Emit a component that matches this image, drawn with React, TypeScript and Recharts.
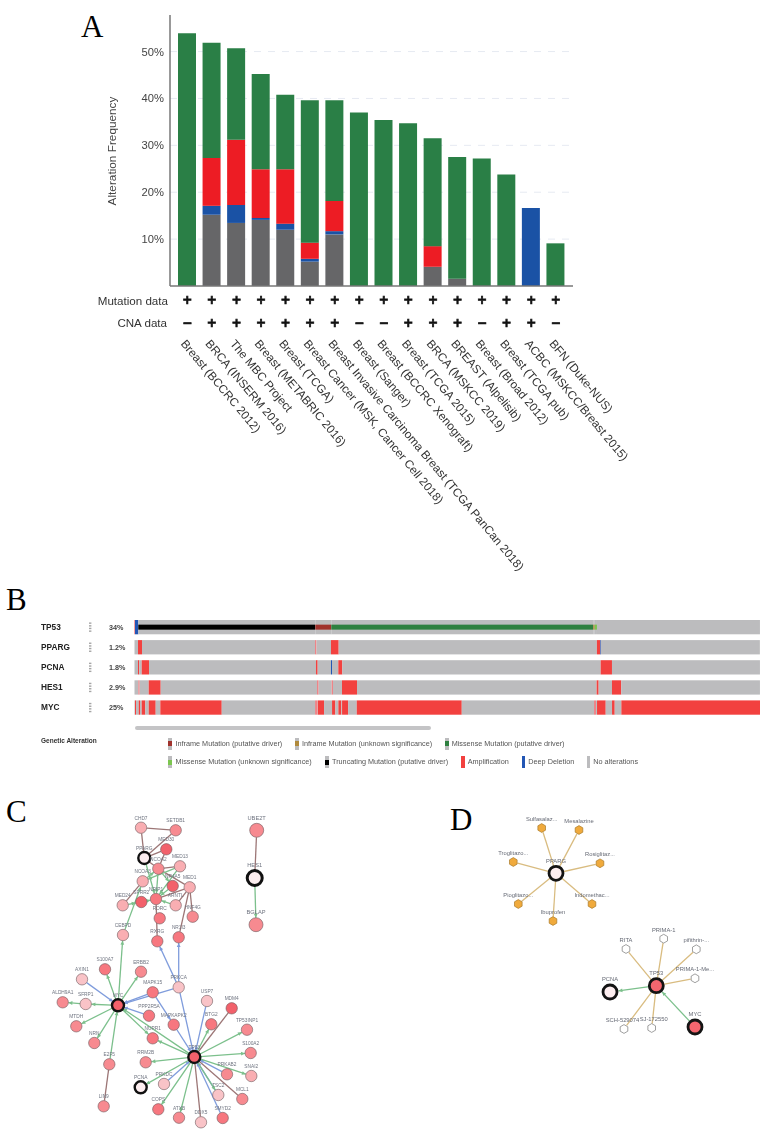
import React from "react";
import {
  Bar,
  BarChart,
  CartesianGrid,
  ReferenceLine,
  Scatter,
  ScatterChart,
  XAxis,
  YAxis,
} from "recharts";

const SANS = "'Liberation Sans', Arial, sans-serif";
const SOFT = "blur(0.4px)"; // the reference is a soft scan

// Panel A
const studies = [
  "Breast (BCCRC 2012)",
  "BRCA (INSERM 2016)",
  "The MBC Project",
  "Breast (METABRIC 2016)",
  "Breast (TCGA)",
  "Breast Cancer (MSK, Cancer Cell 2018)",
  "Breast Invasive Carcinoma Breast (TCGA PanCan 2018)",
  "Breast (Sanger)",
  "Breast (BCCRC Xenograft)",
  "Breast (TCGA 2015)",
  "BRCA (MSKCC 2019)",
  "BREAST (Alpelisib)",
  "Breast (Broad 2012)",
  "Breast (TCGA pub)",
  "ACBC (MSKCC/Breast 2015)",
  "BFN (Duke-NUS)",
];
const multiple = [0, 15.2, 13.45, 14.1, 12.0, 5.2, 11.0, 0, 0, 0, 4.1, 1.55, 0, 0, 0, 0];
const deepDeletion = [0, 1.9, 3.85, 0.4, 1.3, 0.6, 0.7, 0, 0, 0, 0, 0, 0, 0, 16.65, 0];
const amplification = [0, 10.2, 13.9, 10.4, 11.6, 3.45, 6.45, 0, 0, 0, 4.4, 0, 0, 0, 0, 0];
const mutation = [53.9, 24.6, 19.5, 20.3, 15.9, 30.35, 21.45, 37.0, 35.4, 34.7, 23.0, 25.95, 27.2, 23.8, 0, 9.1];
const mutationData = ["+", "+", "+", "+", "+", "+", "+", "+", "+", "+", "+", "+", "+", "+", "+", "+"];
const cnaData = ["-", "+", "+", "+", "+", "+", "+", "-", "-", "+", "+", "+", "-", "+", "+", "-"];
const freqTicks = [10, 20, 30, 40, 50];

const studyRows = studies.map((study, i) => ({
  study,
  multiple: multiple[i],
  deepDeletion: deepDeletion[i],
  amplification: amplification[i],
  mutation: mutation[i],
}));

// Panel B
const genes = ["TP53", "PPARG", "PCNA", "HES1", "MYC"];
const genePercents = ["34%", "1.2%", "1.8%", "2.9%", "25%"];

type Seg = [string, number];
const tp53Segments: Seg[] = [
  ["amp", 0.08], ["deep", 0.53], ["trunc", 28.3], ["inframe", 2.56], ["missense", 41.89],
  ["inframeU", 0.24], ["missenseU", 0.35], ["none", 26.06],
];
const ppargSegments: Seg[] = [
  ["none", 0.56], ["amp", 0.64], ["none", 27.66], ["faint", 0.24], ["none", 2.32], ["amp", 1.23],
  ["none", 41.29], ["amp", 0.53], ["deep", 0.11], ["none", 25.42],
];
const pcnaSegments: Seg[] = [
  ["none", 0.56], ["amp", 0.21], ["none", 0.38], ["amp", 1.17], ["none", 26.7], ["amp", 0.27],
  ["none", 2.13], ["deep", 0.16], ["none", 1.01], ["amp", 0.64], ["none", 41.31], ["amp", 1.81],
  ["none", 23.66],
];
const hes1Segments: Seg[] = [
  ["none", 0.61], ["faint", 0.22], ["none", 1.44], ["amp", 1.92], ["none", 24.99], ["faint", 0.27],
  ["none", 2.08], ["faint", 0.21], ["none", 1.44], ["amp", 2.4], ["none", 38.32], ["amp", 0.32],
  ["none", 2.13], ["amp", 1.49], ["none", 22.17],
];
const mycSegments: Seg[] = [
  ["none", 0.08], ["amp", 0.16], ["none", 0.43], ["amp", 0.21], ["none", 0.27], ["amp", 0.58],
  ["none", 0.54], ["amp", 1.12], ["none", 0.74], ["amp", 9.82], ["none", 14.92], ["faint", 0.37],
  ["none", 0.06], ["amp", 1.01], ["none", 1.28], ["amp", 0.53], ["none", 0.48], ["amp", 0.48],
  ["none", 0.11], ["amp", 0.96], ["none", 1.39], ["amp", 16.79], ["none", 21.15], ["faint", 0.32],
  ["none", 0.16], ["amp", 1.39], ["none", 1.01], ["amp", 0.43], ["none", 1.06], ["amp", 22.17],
];
const geneSegments = [tp53Segments, ppargSegments, pcnaSegments, hes1Segments, mycSegments];
const maxSegments = Math.max(...geneSegments.map((s) => s.length));
const segmentKeys = Array.from({ length: maxSegments }, (_, k) => `s${k}`);
const geneRows = genes.map((gene, i) => {
  const row: Record<string, any> = { gene, pct: genePercents[i] };
  geneSegments[i].forEach(([, v], k) => (row[`s${k}`] = v));
  return row;
});

const statusColors: Record<string, string> = {
  none: "#bcbcbe",
  amp: "#f2413f",
  faint: "#ee8488",
  deep: "#2356b4",
  trunc: "#000000",
  inframe: "#a0322c",
  inframeU: "#b08a3c",
  missense: "#2e8040",
  missenseU: "#7cc64f",
};
const innerStatuses = ["trunc", "inframe", "inframeU", "missense", "missenseU"];

const legendRow1 = [
  { x: 168, textX: 175.5, status: "inframe", label: "Inframe Mutation (putative driver)" },
  { x: 295, textX: 302, status: "inframeU", label: "Inframe Mutation (unknown significance)" },
  { x: 445, textX: 451.7, status: "missense", label: "Missense Mutation (putative driver)" },
];
const legendRow2 = [
  { x: 168, textX: 175.5, status: "missenseU", label: "Missense Mutation (unknown significance)" },
  { x: 325, textX: 332, status: "trunc", label: "Truncating Mutation (putative driver)" },
  { x: 461, textX: 467.7, status: "amp", label: "Amplification" },
  { x: 521.7, textX: 528.3, status: "deep", label: "Deep Deletion" },
  { x: 586.7, textX: 593.3, status: "none", label: "No alterations" },
];

// Panel C: layout, last value is the shade of the node
type NetNode = [string, number, number, number];
const shades = ["#fdeef0", "#f9c3c7", "#f9aeb2", "#f78a90", "#f7777f", "#f2616b"];
const networkNodes: NetNode[] = [
  ["CHD7", 141, 827.7, 2], ["SETDB1", 175.7, 830.3, 3], ["MED30", 166.3, 849.3, 5],
  ["PPARG", 144.3, 858, 0], ["NCOA2", 158.3, 868.7, 3], ["MED13", 180, 866.3, 2],
  ["NCOA3", 142.7, 881.3, 2], ["NR4A5", 172.7, 886, 5], ["MED1", 189.7, 887.3, 2],
  ["MED24", 122.7, 905.3, 2], ["SPRR2", 141.3, 902, 5], ["NRIP1", 156, 899, 4],
  ["ARNTL", 175.7, 905.3, 2], ["RORC", 159.7, 918.3, 4], ["HNF4G", 192.7, 916.7, 3],
  ["CEBPD", 123, 935, 2], ["RXRG", 157.3, 941.3, 4], ["NR1I3", 178.7, 937.3, 4],
  ["UBE2T", 256.7, 830.3, 3], ["HES1", 254.7, 878, 0], ["BGLAP", 256, 924.7, 3],
  ["S100A7", 105, 969.3, 4], ["ERBB2", 141, 971.7, 3], ["AXIN1", 82, 979.3, 1],
  ["PRKCA", 178.7, 987.3, 1], ["MAPK15", 152.7, 992.3, 4], ["ALDH9A1", 62.7, 1002.3, 3],
  ["SFRP1", 85.7, 1004, 1], ["MYC", 118, 1005.3, 5], ["USP7", 207, 1001, 1],
  ["MDM4", 231.7, 1008.3, 5], ["BTG2", 211.3, 1024.3, 4], ["PPP2R5A", 149, 1015.7, 4],
  ["MTDH", 76.3, 1026.3, 3], ["MAPKAPK2", 173.7, 1024.7, 4], ["TP53INP1", 247, 1029.7, 3],
  ["NRN", 94.3, 1043, 3], ["NUPR1", 152.7, 1038.3, 4], ["TP53", 194.3, 1057, 5],
  ["S100A2", 250.7, 1053, 3], ["RRM2B", 145.7, 1062.3, 3], ["E2F5", 109.3, 1064.3, 3],
  ["PRKDC", 164, 1084, 1], ["PRKAB2", 227, 1074.3, 3], ["SNAI2", 251.3, 1076, 2],
  ["PCNA", 140.7, 1087.3, 0], ["TSC2", 218.3, 1095, 1], ["MCL1", 242.3, 1099, 3],
  ["COPS", 158.3, 1109.3, 4], ["LIN9", 103.7, 1106.3, 3], ["ATXB", 179, 1117.7, 3],
  ["DDX5", 201, 1122.3, 1], ["SMYD2", 222.7, 1118, 4],
];
const networkHubs = ["PPARG", "HES1", "MYC", "TP53", "PCNA"];
const bigNodes = ["UBE2T", "BGLAP"];

const greenEdges = [
  ["MYC", "S100A7"], ["MYC", "ERBB2"], ["MYC", "SFRP1"], ["SFRP1", "ALDH9A1"], ["MYC", "MTDH"],
  ["MYC", "NRN"], ["E2F5", "MYC"], ["MYC", "NUPR1"], ["TP53", "MYC"], ["MYC", "CEBPD"],
  ["CEBPD", "NCOA3"], ["TP53", "BTG2"], ["TP53", "TP53INP1"], ["TP53", "S100A2"], ["TP53", "SNAI2"],
  ["TP53", "TSC2"], ["TP53", "ATXB"], ["TP53", "COPS"], ["TP53", "PCNA"], ["TP53", "RRM2B"],
  ["TP53", "NUPR1"], ["HES1", "BGLAP"], ["NCOA3", "NCOA2"], ["NCOA2", "NRIP1"], ["PPARG", "NRIP1"],
  ["NCOA2", "NR4A5"], ["MED13", "NCOA3"], ["ARNTL", "NRIP1"], ["SPRR2", "NRIP1"], ["MED24", "SPRR2"],
  ["NR4A5", "NRIP1"], ["MED13", "NRIP1"],
];
const blueEdges = [
  ["AXIN1", "MYC"], ["MAPK15", "MYC"], ["PPP2R5A", "MYC"], ["PRKCA", "MYC"], ["PRKCA", "RXRG"],
  ["PRKCA", "NR1I3"], ["PRKCA", "TP53"], ["MAPK15", "MAPKAPK2"], ["MAPKAPK2", "TP53"], ["USP7", "TP53"],
  ["PRKAB2", "TP53"], ["TSC2", "TP53"], ["SMYD2", "TP53"], ["PRKDC", "TP53"],
];
const brownEdges = [
  ["CHD7", "SETDB1"], ["CHD7", "PPARG"], ["SETDB1", "PPARG"], ["PPARG", "MED30"], ["PPARG", "NCOA2"],
  ["NCOA3", "MED24"], ["NCOA2", "MED1"], ["MED30", "NCOA2"], ["NCOA2", "MED13"], ["NRIP1", "RXRG"],
  ["MED1", "NR1I3"], ["MED1", "HNF4G"], ["MED1", "ARNTL"], ["NRIP1", "MED1"], ["E2F5", "LIN9"],
  ["MDM4", "TP53"], ["MCL1", "TP53"], ["DDX5", "TP53"], ["UBE2T", "HES1"],
];

// Panel D
type DrugNode = [string, number, number, string];
const drugNodes: DrugNode[] = [
  ["Sulfasalaz...", 541.7, 828, "drug"], ["Mesalazine", 579, 830, "drug"], ["Rosiglitaz...", 600, 863.3, "drug"],
  ["Indomethac...", 592, 904, "drug"], ["Ibuprofen", 553, 921, "drug"], ["Pioglitazo...", 518.3, 904, "drug"],
  ["Troglitazo...", 513.3, 862, "drug"], ["PPARG", 556, 873.3, "hubPale"],
  ["RITA", 626, 949, "compound"], ["PRIMA-1", 663.7, 938.7, "compound"], ["pifithrin-...", 696.3, 949.3, "compound"],
  ["PRIMA-1-Me...", 695, 978.3, "compound"], ["SJ-172550", 651.7, 1028, "compound"], ["SCH-529074", 624, 1029, "compound"],
  ["TP53", 656.3, 985.7, "hubRed"], ["PCNA", 610, 992, "hubPale"], ["MYC", 695, 1027, "hubRed"],
];
const drugEdges = [
  ["PPARG", "Sulfasalaz..."], ["PPARG", "Mesalazine"], ["PPARG", "Rosiglitaz..."], ["PPARG", "Indomethac..."],
  ["PPARG", "Ibuprofen"], ["PPARG", "Pioglitazo..."], ["PPARG", "Troglitazo..."],
  ["TP53", "RITA"], ["TP53", "PRIMA-1"], ["TP53", "pifithrin-..."], ["TP53", "PRIMA-1-Me..."],
  ["TP53", "SJ-172550"], ["TP53", "SCH-529074"],
];
const drugArrows = [["TP53", "PCNA"], ["MYC", "TP53"]];

const GREEN_EDGE = "#7cc08c";
const BLUE_EDGE = "#7f9cdc";
const BROWN_EDGE = "#9c7676";
const TAN_EDGE = "#d9bc80";

const StudyTick = ({ x, payload, index }: any) => {
  return (
    <g fontFamily={SANS}>
      <text x={x} y={304.3} textAnchor="middle" fontFamily="'DejaVu Sans'" fontSize={12} fontWeight="bold" fill="#111" stroke="#111" strokeWidth={0.7}>
        {mutationData[index] === "+" ? "+" : "\u2212"}
      </text>
      <text x={x} y={326.5} textAnchor="middle" fontFamily="'DejaVu Sans'" fontSize={12} fontWeight="bold" fill="#111" stroke="#111" strokeWidth={0.7}>
        {cnaData[index] === "+" ? "+" : "\u2212"}
      </text>
      <text
        x={x - 7}
        y={344}
        fontSize={11.8}
        fill="#333"
        transform={`rotate(50 ${x - 7} 344)`}
      >
        {payload.value}
      </text>
    </g>
  );
};

const GeneTick = ({ y, payload, index }: any) => {
  return (
    <g fontFamily={SANS}>
      <text x={41} y={y + 3} fontSize={8.3} fontWeight="bold" fill="#222">
        {payload.value}
      </text>
      {[-4, -1.3, 1.3, 4].map((d) => (
        <rect key={d} x={89} y={y + d - 0.6} width={2.4} height={1.4} fill="#a5a5a5" />
      ))}
      <text x={109} y={y + 2.5} fontSize={7.2} fontWeight="bold" fill="#444">
        {genePercents[index]}
      </text>
    </g>
  );
};

const makeSegment = (k: number) => (props: any) => {
  const { x, y, width, height, index } = props;
  const seg = geneSegments[index] ? geneSegments[index][k] : undefined;
  if (!seg || !width) return <g />;
  const color = statusColors[seg[0]];
  if (innerStatuses.includes(seg[0])) {
    return (
      <g>
        <rect x={x} y={y} width={width} height={height} fill={statusColors.none} />
        <rect x={x} y={y + height / 2 - 2.5} width={width} height={5} fill={color} />
      </g>
    );
  }
  return <rect x={x} y={y} width={width} height={height} fill={color} />;
};

const lookup = (name: string, list: any[]) => list.find((n) => n[0] === name);

// line from one node rim to the other, with an optional arrow head at the far end
const edgeShape = (color: string, r1: number, r2: number, arrow: boolean, w: number) => (props: any) => {
  const { x1, y1, x2, y2 } = props;
  const len = Math.hypot(x2 - x1, y2 - y1) || 1;
  const ux = (x2 - x1) / len;
  const uy = (y2 - y1) / len;
  const sx = x1 + ux * r1;
  const sy = y1 + uy * r1;
  const ex = x2 - ux * r2;
  const ey = y2 - uy * r2;
  const head = `${ex},${ey} ${ex - ux * 4 - uy * 1.9},${ey - uy * 4 + ux * 1.9} ${ex - ux * 4 + uy * 1.9},${ey - uy * 4 - ux * 1.9}`;
  return (
    <g>
      <line x1={sx} y1={sy} x2={ex} y2={ey} stroke={color} strokeWidth={w} />
      {arrow && <polygon points={head} fill={color} />}
    </g>
  );
};

const nodeRadius = (name: string) =>
  networkHubs.includes(name) ? (name === "HES1" ? 7.5 : 6) : bigNodes.includes(name) ? 7 : 5.7;

const NetworkEdges = (edges: string[][], color: string, arrow: boolean) =>
  edges.map(([a, b], i) => {
    const from = lookup(a, networkNodes);
    const to = lookup(b, networkNodes);
    return (
      <ReferenceLine
        key={`${color}-${i}`}
        segment={[
          { x: from[1], y: from[2] },
          { x: to[1], y: to[2] },
        ]}
        shape={edgeShape(color, nodeRadius(a), nodeRadius(b), arrow, 1.3)}
      />
    );
  });

const NetworkNode = (props: any) => {
  const { cx, cy, payload } = props;
  const hub = networkHubs.includes(payload.name);
  const big = payload.name === "HES1" || bigNodes.includes(payload.name);
  const r = nodeRadius(payload.name);
  return (
    <g fontFamily={SANS}>
      <circle
        cx={cx}
        cy={cy}
        r={r}
        fill={payload.fill}
        stroke={hub ? "#111" : "#6e5a5e"}
        strokeWidth={hub ? (payload.name === "HES1" ? 3 : 2.4) : 0.6}
      />
      <text
        x={cx}
        y={cy - r - (big ? 3.5 : 2.5)}
        textAnchor="middle"
        fontSize={big ? 5.7 : 4.8}
        fill="#6f7480"
      >
        {payload.name}
      </text>
    </g>
  );
};

const hexPoints = (cx: number, cy: number, r: number) =>
  [0, 1, 2, 3, 4, 5]
    .map((i) => {
      const a = Math.PI / 6 + (i * Math.PI) / 3;
      return `${cx + r * Math.cos(a)},${cy + r * Math.sin(a)}`;
    })
    .join(" ");

const drugRadius = (kind: string) => (kind === "hubPale" || kind === "hubRed" ? 7 : 4.4);

const DrugNodeShape = (props: any) => {
  const { cx, cy, payload } = props;
  const kind = payload.kind;
  const r = drugRadius(kind);
  // these two labels nearly touch in the reference
  const dx = payload.name === "SCH-529074" ? -1.5 : payload.name === "SJ-172550" ? 2 : 0;
  return (
    <g fontFamily={SANS}>
      {kind === "hubPale" || kind === "hubRed" ? (
        <circle
          cx={cx}
          cy={cy}
          r={r}
          fill={kind === "hubRed" ? "#f4666f" : "#fdeef0"}
          stroke="#141414"
          strokeWidth={2.8}
        />
      ) : (
        <polygon
          points={hexPoints(cx, cy, r)}
          fill={kind === "drug" ? "#f0aa3c" : "#ffffff"}
          stroke={kind === "drug" ? "#a97b2d" : "#777"}
          strokeWidth={0.7}
        />
      )}
      <text
        x={cx + dx}
        y={cy - r - (kind === "drug" || kind === "compound" ? 2.8 : 3.6)}
        textAnchor="middle"
        fontSize={5.8}
        fill="#666a75"
      >
        {payload.name}
      </text>
    </g>
  );
};

const Letter = ({ x, y, children }: any) => (
  <div
    style={{
      position: "absolute",
      left: x,
      top: y,
      fontFamily: "'Liberation Serif', serif",
      fontSize: 31,
      lineHeight: "31px",
      color: "#000",
    }}
  >
    {children}
  </div>
);

const LegendRow = ({ items, y }: any) => (
  <>
    {items.map((item: any) => (
      <React.Fragment key={item.label}>
        <div style={{ position: "absolute", left: item.x, top: y - 6, width: 3.6, height: 12, background: statusColors.none }} />
        <div
          style={{
            position: "absolute",
            left: item.x,
            top: item.status === "amp" || item.status === "deep" ? y - 6 : y - 2.5,
            width: 3.6,
            height: item.status === "amp" || item.status === "deep" ? 12 : 5,
            background: statusColors[item.status],
          }}
        />
        <div
          style={{
            position: "absolute",
            left: item.textX,
            top: y - 5,
            fontFamily: SANS,
            fontSize: 7.25,
            lineHeight: "10px",
            color: "#555",
            whiteSpace: "nowrap",
          }}
        >
          {item.label}
        </div>
      </React.Fragment>
    ))}
  </>
);

const networkData = networkNodes.map(([name, x, y, shade]) => ({ name, x, y, fill: shades[shade] }));
const drugData = drugNodes.map(([name, x, y, kind]) => ({ name, x, y, kind }));

export default function App() {
  const absLabel = (text: string, right: number, top: number) => (
    <div
      style={{
        position: "absolute",
        right: 770 - right,
        top,
        fontFamily: SANS,
        fontSize: 11.6,
        lineHeight: "14px",
        color: "#333",
        whiteSpace: "nowrap",
      }}
    >
      {text}
    </div>
  );

  return (
    <div style={{ position: "absolute", left: 0, top: 0, width: 770, height: 1129, background: "#fff", overflow: "hidden" }}>
      <Letter x={81} y={11}>A</Letter>
      <Letter x={6} y={584}>B</Letter>
      <Letter x={6} y={796}>C</Letter>
      <Letter x={450} y={804}>D</Letter>

      <div style={{ position: "absolute", left: 0, top: 0, width: 770, height: 600, filter: SOFT }}>
        <BarChart
          width={770}
          height={600}
          data={studyRows}
          margin={{ top: 15, right: 197, bottom: 0, left: 0 }}
          barSize={18}
        >
          <CartesianGrid vertical={false} stroke="#e6eaf2" strokeDasharray="7 7" horizontalValues={freqTicks} />
          <XAxis
            dataKey="study"
            interval={0}
            height={314}
            padding={{ left: 5, right: 5 }}
            tickLine={false}
            tick={<StudyTick />}
            stroke="#777"
            strokeWidth={1.5}
          />
          <YAxis
            width={170}
            domain={[0, 57.8]}
            ticks={freqTicks}
            tickFormatter={(v: number) => `${v}%`}
            tick={{ fontFamily: SANS, fontSize: 11.2, fill: "#444" }}
            tickLine={false}
            tickMargin={0}
            stroke="#777"
            strokeWidth={1.5}
          />
          <Bar dataKey="multiple" stackId="a" fill="#666668" isAnimationActive={false} />
          <Bar dataKey="deepDeletion" stackId="a" fill="#1a52a5" isAnimationActive={false} />
          <Bar dataKey="amplification" stackId="a" fill="#ed1c24" isAnimationActive={false} />
          <Bar dataKey="mutation" stackId="a" fill="#2a7f46" isAnimationActive={false} />
        </BarChart>
        {absLabel("Mutation data", 168, 293.5)}
        {absLabel("CNA data", 167, 316)}
        <div
          style={{
            position: "absolute",
            left: 112,
            top: 151,
            transform: "translate(-50%, -50%) rotate(-90deg)",
            fontFamily: SANS,
            fontSize: 11.8,
            color: "#444",
            whiteSpace: "nowrap",
          }}
        >
          Alteration Frequency
        </div>
      </div>

      <div style={{ position: "absolute", left: 0, top: 617.25, filter: SOFT }}>
        <BarChart
          layout="vertical"
          width={760}
          height={100.5}
          data={geneRows}
          margin={{ top: 0, right: 0, bottom: 0, left: 0 }}
          barSize={14.3}
        >
          <XAxis type="number" hide domain={[0, 100]} />
          <YAxis
            type="category"
            dataKey="gene"
            width={134.5}
            interval={0}
            tickLine={false}
            axisLine={false}
            tick={<GeneTick />}
          />
          {segmentKeys.map((key, k) => (
            <Bar key={key} dataKey={key} stackId="g" isAnimationActive={false} shape={makeSegment(k)} />
          ))}
        </BarChart>
      </div>
      <div style={{ position: "absolute", left: 0, top: 0, width: 770, height: 790, filter: SOFT, pointerEvents: "none" }}>
        <div style={{ position: "absolute", left: 134.5, top: 725.7, width: 296.5, height: 4.6, borderRadius: 2.3, background: "#c4c4c6" }} />
        <div
          style={{
            position: "absolute",
            left: 41,
            top: 736,
            fontFamily: SANS,
            fontSize: 6.5,
            lineHeight: "10px",
            fontWeight: "bold",
            color: "#333",
            whiteSpace: "nowrap",
          }}
        >
          Genetic Alteration
        </div>
        <LegendRow items={legendRow1} y={743.5} />
        <LegendRow items={legendRow2} y={762} />
      </div>

      <div style={{ position: "absolute", left: 30, top: 795, filter: SOFT }}>
        <ScatterChart width={270} height={334} margin={{ top: 0, right: 0, bottom: 0, left: 0 }}>
          <XAxis type="number" dataKey="x" hide domain={[30, 300]} />
          <YAxis type="number" dataKey="y" hide domain={[795, 1129]} reversed width={0} />
          {NetworkEdges(brownEdges, BROWN_EDGE, false)}
          {NetworkEdges(blueEdges, BLUE_EDGE, true)}
          {NetworkEdges(greenEdges, GREEN_EDGE, true)}
          <Scatter data={networkData} isAnimationActive={false} shape={NetworkNode} />
        </ScatterChart>
      </div>

      <div style={{ position: "absolute", left: 450, top: 800, filter: SOFT }}>
        <ScatterChart width={320} height={260} margin={{ top: 0, right: 0, bottom: 0, left: 0 }}>
          <XAxis type="number" dataKey="x" hide domain={[450, 770]} />
          <YAxis type="number" dataKey="y" hide domain={[800, 1060]} reversed width={0} />
          {drugEdges.map(([a, b]) => {
            const from = lookup(a, drugNodes);
            const to = lookup(b, drugNodes);
            return (
              <ReferenceLine
                key={`${a}-${b}`}
                segment={[
                  { x: from[1], y: from[2] },
                  { x: to[1], y: to[2] },
                ]}
                shape={edgeShape(TAN_EDGE, 7, 4.4, false, 1.3)}
              />
            );
          })}
          {drugArrows.map(([a, b]) => {
            const from = lookup(a, drugNodes);
            const to = lookup(b, drugNodes);
            return (
              <ReferenceLine
                key={`${a}-${b}`}
                segment={[
                  { x: from[1], y: from[2] },
                  { x: to[1], y: to[2] },
                ]}
                shape={edgeShape(GREEN_EDGE, 7, 8.5, true, 1.3)}
              />
            );
          })}
          <Scatter data={drugData} isAnimationActive={false} shape={DrugNodeShape} />
        </ScatterChart>
      </div>
    </div>
  );
}
